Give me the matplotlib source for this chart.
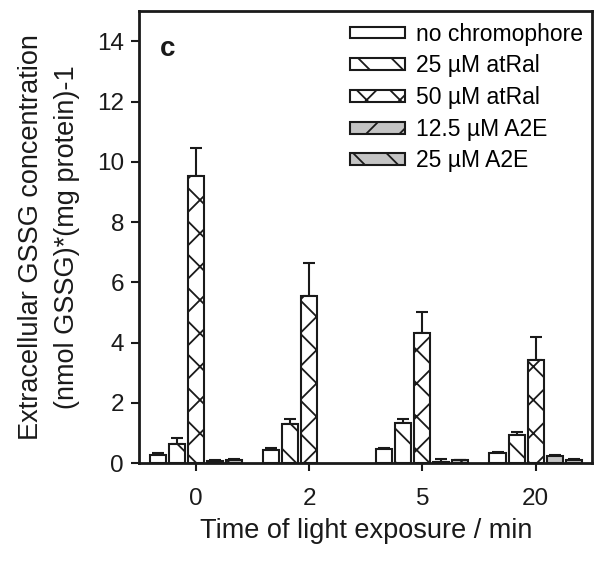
import numpy as np
import matplotlib
matplotlib.use('Agg')
import matplotlib.pyplot as plt

plt.rcParams['font.family'] = ['Liberation Sans', 'DejaVu Sans']
plt.rcParams['hatch.linewidth'] = 1.3

# data
times = ['0', '2', '5', '20']
series = ['no chromophore', '25 \u00b5M atRal', '50 \u00b5M atRal', '12.5 \u00b5M A2E', '25 \u00b5M A2E']
no_chrom = [0.26, 0.42, 0.46, 0.35]
no_chrom_err = [0.09, 0.08, 0.04, 0.03]
atral_25 = [0.62, 1.31, 1.34, 0.93]
atral_25_err = [0.22, 0.15, 0.11, 0.09]
atral_50 = [9.54, 5.55, 4.32, 3.42]
atral_50_err = [0.93, 1.08, 0.70, 0.75]
a2e_125 = [0.07, np.nan, 0.02, 0.23]
a2e_125_err = [0.02, np.nan, 0.10, 0.03]
a2e_25 = [0.11, np.nan, 0.09, 0.10]
a2e_25_err = [0.02, np.nan, 0.02, 0.02]

values = [no_chrom, atral_25, atral_50, a2e_125, a2e_25]
errors = [no_chrom_err, atral_25_err, atral_50_err, a2e_125_err, a2e_25_err]
fills = ['white', 'white', 'white', '#c4c4c4', '#c4c4c4']
hatches = ['', '\\', 'x', '/', '\\']

fig = plt.figure(figsize=(6, 5.62), dpi=100)
ax = fig.add_axes([0.232, 0.176, 0.755, 0.804])

x = np.arange(len(times))
step = 0.168
width = 0.142
for i in range(len(series)):
    pos = x + (i - 2) * step
    ax.bar(pos, values[i], width, color=fills[i], edgecolor='#1a1a1a', hatch=hatches[i],
           linewidth=1.5, label=series[i], zorder=2)
    ax.errorbar(pos, values[i], yerr=[np.zeros(len(times)), errors[i]], fmt='none',
                ecolor='#1a1a1a', elinewidth=1.5, capsize=4, capthick=1.5, zorder=1)

ax.set_xlim(-0.5, 3.5)
ax.set_ylim(0, 15)
ax.set_xticks(x)
ax.set_xticklabels(times)
ax.set_yticks(np.arange(0, 15, 2))
ax.tick_params(axis='both', direction='out', length=6, width=1.5, labelsize=17.5,
               colors='#1a1a1a', pad=5)
ax.tick_params(axis='x', pad=12)
for sp in ax.spines.values():
    sp.set_linewidth(2)
    sp.set_color('#1a1a1a')

ax.set_xlabel('Time of light exposure / min', fontsize=19.5, color='#1a1a1a', labelpad=6)
ax.set_ylabel('Extracellular GSSG concentration\n(nmol GSSG)*(mg protein)-1', fontsize=19.5,
              color='#1a1a1a', labelpad=12, linespacing=1.5)

ax.text(0.045, 0.945, 'c', transform=ax.transAxes, fontsize=20, fontweight='bold',
        va='top', ha='left', color='#1a1a1a')

ax.legend(loc='upper right', frameon=False, fontsize=16.5, handlelength=2.4, handleheight=0.42,
          handletextpad=0.5, labelspacing=0.38, borderaxespad=0.0, borderpad=0.3,
          bbox_to_anchor=(0.995, 0.99))

fig.savefig('out.png', dpi=100)
